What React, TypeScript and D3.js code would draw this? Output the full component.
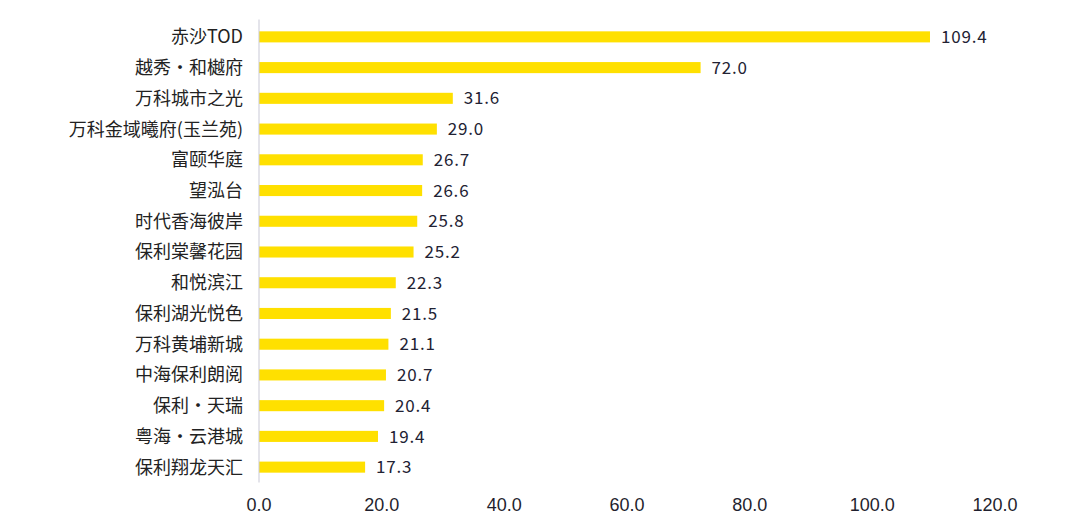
import React from "react";
import * as d3 from "d3";

const categories = [
  "赤沙TOD",
  "越秀・和樾府",
  "万科城市之光",
  "万科金域曦府(玉兰苑)",
  "富颐华庭",
  "望泓台",
  "时代香海彼岸",
  "保利棠馨花园",
  "和悦滨江",
  "保利湖光悦色",
  "万科黄埔新城",
  "中海保利朗阅",
  "保利・天瑞",
  "粤海・云港城",
  "保利翔龙天汇",
];
const values = [109.4, 72.0, 31.6, 29.0, 26.7, 26.6, 25.8, 25.2, 22.3, 21.5, 21.1, 20.7, 20.4, 19.4, 17.3];
const xTicks = [0, 20, 40, 60, 80, 100, 120];

export default function App() {
  const W = 1080, H = 530;
  const left = 259, right = 995, top = 21.5, bottom = 482.5;
  const x = d3.scaleLinear().domain([0, 120]).range([left, right]);
  const y = d3.scaleBand<string>().domain(categories).range([top, bottom]).paddingInner(0.64).paddingOuter(0.32);
  const cjk = "'Noto Sans CJK SC', 'Noto Sans', sans-serif";
  return (
    <svg width={W} height={H} style={{ position: "absolute", left: 0, top: 0, background: "#fff" }}>
      {categories.map((c, i) => (
        <g key={c}>
          <rect x={x(0)} y={y(c)!} width={x(values[i]) - x(0)} height={y.bandwidth()} fill="#FFE000" />
          <text x={243} y={y(c)! + y.bandwidth() / 2} dy="0.36em" textAnchor="end" fontFamily={cjk} fontSize={18} fill="#222222">
            {c}
          </text>
          <text x={x(values[i]) + 11} y={y(c)! + y.bandwidth() / 2} dy="0.36em" fontFamily={cjk} fontSize={17} letterSpacing={0.8} fill="#222233">
            {values[i].toFixed(1)}
          </text>
        </g>
      ))}
      <line x1={x(0)} x2={x(0)} y1={top - 2} y2={bottom} stroke="#c9c9d6" strokeWidth={1} />
      {xTicks.map((t) => (
        <text key={t} x={x(t)} y={505} dy="0.35em" textAnchor="middle" fontFamily="'Liberation Sans', Arial, sans-serif" fontSize={18} fill="#1f1f2e">
          {t.toFixed(1)}
        </text>
      ))}
    </svg>
  );
}
